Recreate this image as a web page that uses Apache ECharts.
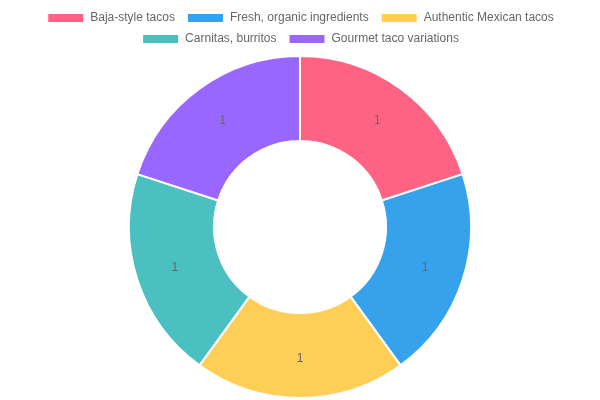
<!DOCTYPE html>
<html>
<head>
<meta charset="utf-8">
<script src="https://cdn.jsdelivr.net/npm/echarts@6/dist/echarts.min.js"></script>
<style>html,body{margin:0;padding:0;background:#fff;}#c{width:600px;height:400px;}</style>
</head>
<body>
<div id="c"></div>
<script>
var categories = ["Baja-style tacos", "Fresh, organic ingredients", "Authentic Mexican tacos", "Carnitas, burritos", "Gourmet taco variations"];
var values = [1, 1, 1, 1, 1];
var colors = ["#FF6384", "#36A2EB", "#FFCE56", "#4BC0C0", "#9966FF"];

var legendBase = {
  left: 'center',
  itemWidth: 37,
  itemHeight: 10,
  itemGap: 11,
  icon: 'rect',
  textStyle: { color: '#666', fontSize: 12, fontFamily: 'Liberation Sans, Arial, sans-serif', padding: [0, 0, 0, 1] }
};

var chart = echarts.init(document.getElementById('c'));
chart.setOption({
  animation: false,
  color: colors,
  legend: [
    Object.assign({}, legendBase, { top: 7, data: categories.slice(0, 3) }),
    Object.assign({}, legendBase, { top: 28, data: categories.slice(3) })
  ],
  series: [{
    type: 'pie',
    center: [300, 227],
    radius: [86, 171],
    startAngle: 90,
    clockwise: true,
    itemStyle: { borderColor: '#fff', borderWidth: 2 },
    label: { show: true, position: 'inside', formatter: '{c}', color: '#666', fontSize: 12, fontFamily: 'Liberation Sans, Arial, sans-serif' },
    labelLine: { show: false },
    emphasis: { disabled: true },
    data: categories.map(function (n, i) { return { name: n, value: values[i] }; })
  }]
});
</script>
</body>
</html>
